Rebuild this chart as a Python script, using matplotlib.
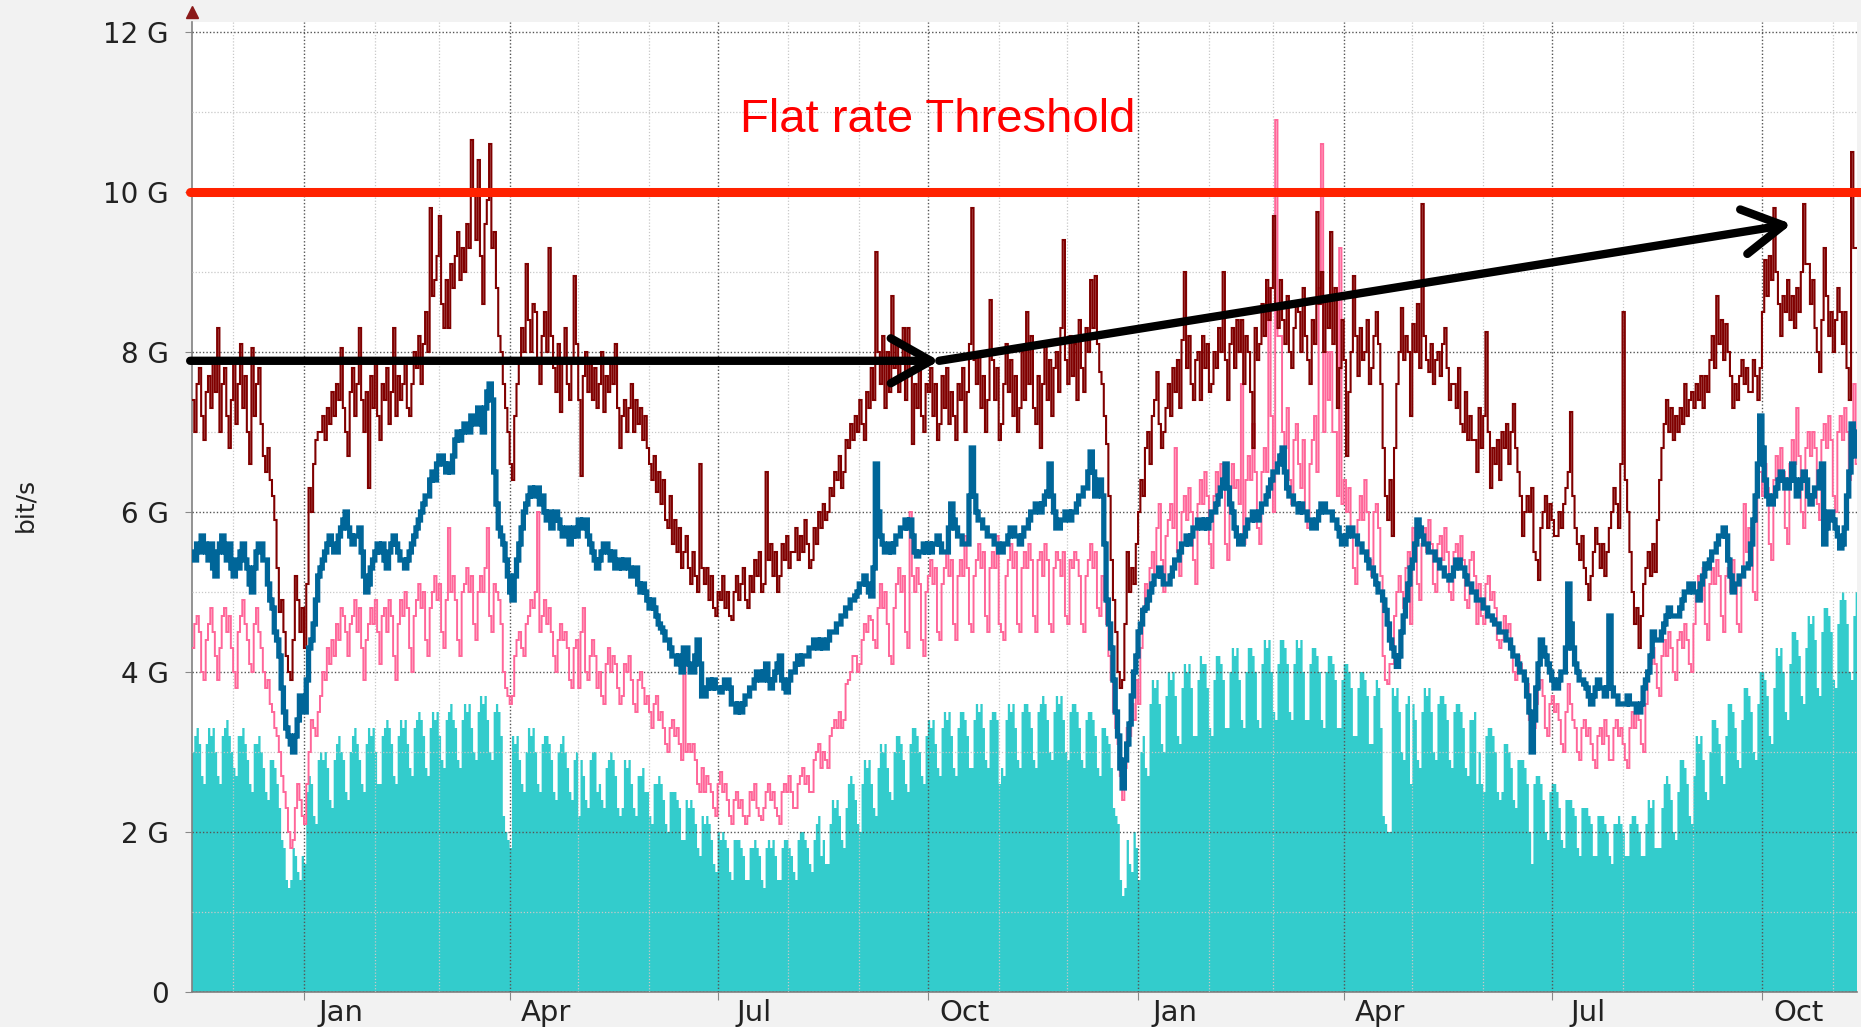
import numpy as np
import pandas as pd
import matplotlib
matplotlib.use('Agg')
import matplotlib.pyplot as plt
import matplotlib.dates as mdates
from matplotlib.ticker import MultipleLocator, NullFormatter
from matplotlib.transforms import blended_transform_factory

# daily values in Gbit/s, first day 2012-11-13, one row per week
start = '2012-11-13'

teal_area = [
    3.0, 3.2, 3.3, 3.1, 2.7, 2.6, 3.1,
    3.3, 3.2, 3.3, 3.0, 2.7, 2.6, 3.2,
    3.3, 3.4, 3.2, 3.0, 2.8, 2.7, 3.2,
    3.2, 3.3, 3.1, 2.9, 2.6, 2.5, 3.1,
    3.1, 3.2, 3.0, 2.8, 2.5, 2.4, 2.9,
    2.9, 2.8, 2.6, 2.3, 1.9, 1.8, 1.4,
    1.3, 1.4, 1.8, 1.7, 1.5, 1.4, 1.7,
    1.6, 2.5, 2.7, 2.6, 2.2, 2.1, 2.9,
    3.0, 2.9, 3.0, 2.8, 2.4, 2.3, 2.9,
    3.1, 3.2, 3.0, 2.9, 2.5, 2.4, 3.0,
    3.2, 3.3, 3.1, 2.9, 2.6, 2.5, 3.1,
    3.3, 3.2, 3.3, 3.0, 2.6, 2.6, 3.2,
    3.3, 3.4, 3.3, 3.1, 2.7, 2.6, 3.2,
    3.4, 3.3, 3.4, 3.1, 2.8, 2.7, 3.3,
    3.4, 3.5, 3.4, 3.2, 2.8, 2.7, 3.3,
    3.5, 3.4, 3.5, 3.2, 2.9, 2.8, 3.4,
    3.5, 3.6, 3.4, 3.3, 2.9, 2.8, 3.4,
    3.6, 3.5, 3.6, 3.3, 3.0, 2.9, 3.5,
    3.7, 3.6, 3.7, 3.4, 3.0, 2.9, 3.5,
    3.6, 3.5, 3.2, 2.2, 2.0, 1.9, 1.8,
    3.2, 3.1, 3.2, 2.9, 2.6, 2.5, 3.0,
    3.3, 3.2, 3.3, 3.0, 2.6, 2.5, 3.1,
    3.2, 3.2, 3.1, 2.9, 2.5, 2.4, 3.0,
    3.1, 3.2, 3.0, 2.8, 2.5, 2.4, 2.9,
    3.0, 2.2, 2.9, 2.7, 2.4, 2.3, 2.9,
    3.0, 3.0, 2.5, 2.6, 2.4, 2.3, 2.8,
    2.9, 3.0, 2.9, 2.7, 2.3, 2.2, 2.3,
    2.9, 2.8, 2.9, 2.6, 2.3, 2.2, 2.7,
    2.7, 2.8, 2.5, 2.5, 2.2, 2.1, 2.6,
    2.6, 2.7, 2.6, 2.4, 2.1, 2.0, 2.5,
    2.5, 2.5, 2.4, 2.3, 1.9, 1.9, 2.4,
    2.3, 2.4, 2.3, 2.1, 1.8, 1.7, 2.2,
    2.1, 2.2, 2.1, 1.9, 1.6, 1.5, 2.0,
    1.9, 2.0, 1.9, 1.8, 1.5, 1.4, 1.9,
    1.9, 1.9, 1.8, 1.7, 1.4, 1.4, 1.8,
    1.8, 1.9, 1.8, 1.7, 1.4, 1.3, 1.8,
    1.9, 1.8, 1.9, 1.7, 1.4, 1.4, 1.8,
    1.9, 1.9, 1.8, 1.7, 1.5, 1.4, 1.9,
    2.0, 2.0, 1.9, 1.8, 1.6, 1.5, 1.9,
    2.1, 2.2, 1.7, 1.9, 1.6, 1.6, 2.1,
    2.4, 2.3, 2.4, 2.2, 1.9, 1.8, 2.3,
    2.6, 2.7, 2.6, 2.4, 2.1, 2.0, 2.6,
    2.9, 2.8, 2.9, 2.6, 2.3, 2.2, 2.8,
    3.1, 3.0, 3.1, 2.8, 2.5, 2.4, 3.0,
    3.2, 3.2, 3.1, 2.9, 2.6, 2.5, 3.1,
    3.3, 3.3, 3.2, 3.0, 2.7, 2.6, 3.2,
    3.4, 3.3, 3.4, 3.1, 2.8, 2.7, 3.3,
    3.5, 3.4, 3.5, 3.2, 2.8, 2.7, 3.3,
    3.5, 3.5, 3.4, 3.2, 2.8, 2.8, 3.4,
    3.6, 3.5, 3.6, 3.3, 2.9, 2.8, 3.4,
    3.5, 3.5, 3.4, 2.6, 2.8, 2.7, 3.4,
    3.6, 3.5, 3.6, 3.3, 2.9, 2.8, 3.5,
    3.6, 3.6, 3.5, 3.3, 2.9, 2.8, 3.5,
    3.6, 3.7, 3.6, 3.4, 3.0, 2.9, 3.5,
    3.7, 3.6, 3.7, 3.4, 3.0, 2.9, 3.5,
    3.6, 3.6, 3.5, 3.3, 2.9, 2.8, 3.4,
    3.5, 3.5, 3.4, 3.2, 2.8, 2.7, 3.3,
    3.3, 3.2, 3.1, 2.8, 2.3, 2.2, 2.1,
    1.4, 1.2, 1.3, 1.9, 1.6, 1.5, 2.0,
    1.8, 1.4, 3.0, 3.2, 2.8, 2.7, 3.6,
    3.9, 3.8, 3.9, 3.6, 3.1, 3.0, 3.7,
    4.0, 3.9, 4.0, 3.7, 3.2, 3.1, 3.8,
    4.1, 4.0, 4.1, 3.8, 3.2, 3.2, 3.9,
    4.2, 4.1, 4.1, 3.8, 3.3, 3.2, 3.9,
    4.2, 4.2, 4.1, 3.9, 3.3, 3.3, 4.0,
    4.3, 4.2, 4.3, 3.9, 3.4, 3.3, 4.0,
    4.3, 4.3, 4.2, 4.0, 3.4, 3.3, 4.1,
    4.4, 4.3, 4.4, 4.0, 3.5, 3.4, 4.1,
    4.4, 4.4, 4.3, 4.1, 3.5, 3.4, 4.1,
    4.4, 4.3, 4.4, 4.0, 3.4, 3.4, 4.1,
    4.3, 4.3, 4.2, 4.0, 3.4, 3.3, 4.0,
    4.2, 4.2, 4.1, 3.9, 3.3, 3.3, 3.9,
    4.1, 4.1, 4.0, 3.8, 3.2, 3.2, 3.8,
    4.0, 4.0, 3.9, 3.7, 3.1, 3.1, 3.7,
    3.9, 3.8, 3.3, 2.2, 2.1, 2.0, 2.0,
    3.8, 3.7, 3.8, 3.5, 3.0, 2.9, 3.6,
    3.7, 2.6, 3.6, 3.4, 2.9, 2.8, 3.5,
    3.8, 3.7, 3.8, 3.5, 3.0, 2.9, 3.6,
    3.7, 3.7, 3.6, 3.4, 2.9, 2.8, 3.5,
    3.6, 3.6, 3.5, 3.3, 2.8, 2.7, 3.4,
    3.4, 3.5, 2.6, 3.0, 2.6, 2.5, 3.2,
    3.3, 3.3, 3.2, 3.0, 2.5, 2.4, 2.5,
    3.1, 3.1, 3.0, 2.8, 2.4, 2.3, 2.9,
    2.9, 2.9, 2.8, 2.6, 2.0, 1.6, 2.6,
    2.7, 2.7, 2.6, 2.4, 2.0, 1.9, 2.5,
    2.6, 2.6, 2.5, 2.3, 1.9, 1.8, 2.4,
    2.4, 2.4, 2.3, 2.2, 1.8, 1.7, 2.3,
    2.3, 2.3, 2.2, 2.1, 1.7, 1.7, 2.2,
    2.2, 2.2, 2.1, 2.0, 1.7, 1.6, 2.1,
    2.1, 2.2, 2.1, 2.0, 1.7, 1.7, 2.1,
    2.2, 2.2, 2.1, 2.0, 1.7, 1.7, 2.1,
    2.4, 2.3, 2.4, 1.8, 1.8, 1.8, 2.3,
    2.6, 2.7, 2.6, 2.4, 2.0, 1.9, 2.5,
    2.9, 2.9, 2.8, 2.6, 2.2, 2.1, 2.7,
    3.2, 3.1, 3.2, 2.9, 2.5, 2.4, 3.0,
    3.4, 3.4, 3.3, 3.1, 2.7, 2.6, 3.2,
    3.6, 3.6, 3.5, 3.3, 2.9, 2.8, 3.4,
    3.8, 3.8, 3.7, 3.5, 3.0, 2.9, 3.6,
    4.0, 4.0, 3.9, 3.7, 3.2, 3.1, 3.8,
    4.3, 4.2, 4.3, 4.0, 3.5, 3.4, 4.1,
    4.5, 4.5, 4.4, 4.2, 3.7, 3.6, 4.3,
    4.7, 4.6, 4.7, 4.4, 3.8, 3.7, 4.5,
    4.8, 4.8, 4.7, 4.5, 3.9, 3.8, 4.6,
    4.9, 5.0, 4.9, 4.6, 4.0, 3.9, 4.7,
    5.0,
]

blue_line = [
    5.5, 5.4, 5.6, 5.5, 5.7, 5.6, 5.5,
    5.4, 5.6, 5.3, 5.2, 5.5, 5.6, 5.7,
    5.5, 5.4, 5.6, 5.3, 5.2, 5.4, 5.3,
    5.5, 5.6, 5.4, 5.3, 5.1, 5.0, 5.3,
    5.5, 5.6, 5.6, 5.4, 5.4, 5.1, 4.9,
    4.8, 4.5, 4.4, 4.2, 3.8, 3.5, 3.3,
    3.2, 3.1, 3.0, 3.2, 3.4, 3.7, 3.6,
    3.5, 3.9, 4.3, 4.4, 4.6, 4.9, 5.2,
    5.3, 5.4, 5.5, 5.6, 5.7, 5.6, 5.5,
    5.5, 5.7, 5.8, 5.9, 6.0, 5.8, 5.7,
    5.6, 5.7, 5.7, 5.8, 5.5, 5.2, 5.0,
    5.1, 5.3, 5.4, 5.5, 5.6, 5.5, 5.6,
    5.4, 5.3, 5.5, 5.6, 5.7, 5.6, 5.5,
    5.4, 5.4, 5.3, 5.4, 5.5, 5.6, 5.7,
    5.8, 5.9, 6.0, 6.1, 6.2, 6.2, 6.4,
    6.5, 6.4, 6.6, 6.7, 6.7, 6.6, 6.5,
    6.6, 6.5, 6.7, 6.9, 7.0, 6.9, 7.0,
    7.1, 7.1, 7.0, 7.2, 7.2, 7.1, 7.3,
    7.2, 7.0, 7.3, 7.5, 7.6, 7.4, 6.5,
    6.1, 5.8, 5.7, 5.6, 5.4, 5.2, 5.0,
    4.9, 5.2, 5.4, 5.6, 5.8, 6.0, 6.1,
    6.2, 6.3, 6.2, 6.3, 6.3, 6.1, 6.2,
    6.0, 5.9, 6.0, 5.8, 5.9, 6.0, 5.9,
    5.8, 5.7, 5.7, 5.8, 5.6, 5.7, 5.8,
    5.7, 5.9, 5.8, 5.9, 5.9, 5.7, 5.6,
    5.5, 5.4, 5.3, 5.4, 5.5, 5.6, 5.6,
    5.5, 5.4, 5.5, 5.3, 5.3, 5.4, 5.3,
    5.4, 5.4, 5.3, 5.2, 5.2, 5.3, 5.1,
    5.0, 5.1, 5.0, 4.9, 4.8, 4.9, 4.8,
    4.7, 4.6, 4.55, 4.5, 4.4, 4.4, 4.3,
    4.2, 4.2, 4.1, 4.2, 4.0, 4.3, 4.3,
    4.1, 4.0, 4.0, 4.2, 4.4, 4.1, 3.7,
    3.7, 3.8, 3.9, 3.8, 3.9, 3.8, 3.8,
    3.75, 3.8, 3.9, 3.9, 3.8, 3.6, 3.6,
    3.5, 3.6, 3.5, 3.6, 3.7, 3.7, 3.8,
    3.8, 3.9, 4.0, 4.0, 3.9, 4.0, 4.1,
    3.9, 3.8, 3.9, 4.0, 4.1, 4.2, 3.9,
    3.8, 3.75, 3.9, 4.0, 4.0, 4.1, 4.2,
    4.1, 4.2, 4.2, 4.2, 4.3, 4.3, 4.4,
    4.4, 4.3, 4.4, 4.3, 4.3, 4.4, 4.5,
    4.5, 4.5, 4.6, 4.6, 4.7, 4.7, 4.8,
    4.8, 4.9, 4.9, 4.95, 5.0, 5.1, 5.1,
    5.2, 5.1, 5.0, 4.95, 5.3, 6.6, 6.0,
    5.7, 5.6, 5.5, 5.5, 5.6, 5.5, 5.6,
    5.7, 5.7, 5.8, 5.8, 5.9, 5.8, 5.9,
    5.7, 5.5, 5.45, 5.5, 5.5, 5.6, 5.5,
    5.6, 5.5, 5.6, 5.6, 5.7, 5.6, 5.5,
    5.5, 5.5, 5.8, 6.1, 5.9, 5.8, 5.7,
    5.7, 5.6, 5.6, 5.6, 6.2, 6.8, 6.2,
    6.0, 5.9, 5.9, 5.8, 5.8, 5.7, 5.7,
    5.7, 5.6, 5.6, 5.5, 5.5, 5.6, 5.6,
    5.7, 5.8, 5.8, 5.7, 5.7, 5.6, 5.7,
    5.8, 5.8, 5.9, 6.0, 6.0, 6.1, 6.1,
    6.0, 6.1, 6.2, 6.25, 6.6, 6.2, 6.0,
    5.8, 5.8, 5.9, 5.9, 6.0, 6.0, 5.9,
    6.0, 6.0, 6.1, 6.2, 6.2, 6.3, 6.3,
    6.5, 6.75, 6.5, 6.2, 6.3, 6.4, 6.2,
    5.6, 4.9, 4.6, 4.3, 3.9, 3.5, 3.2,
    2.8, 2.55, 2.9, 3.1, 3.35, 3.7, 4.0,
    4.2, 4.5, 4.6, 4.77, 4.8, 4.9, 5.0,
    5.1, 5.2, 5.2, 5.3, 5.2, 5.1, 5.1,
    5.1, 5.2, 5.3, 5.4, 5.4, 5.5, 5.6,
    5.6, 5.7, 5.6, 5.7, 5.8, 5.8, 5.9,
    5.9, 5.8, 5.9, 5.8, 5.9, 6.0, 6.0,
    6.1, 6.2, 6.3, 6.4, 6.6, 6.3, 6.1,
    6.0, 5.8, 5.7, 5.6, 5.6, 5.7, 5.8,
    5.9, 5.9, 6.0, 5.9, 5.9, 6.0, 6.1,
    6.1, 6.2, 6.3, 6.4, 6.5, 6.5, 6.6,
    6.7, 6.8, 6.5, 6.3, 6.2, 6.2, 6.1,
    6.1, 6.0, 6.1, 6.0, 6.0, 5.9, 5.9,
    5.8, 5.8, 5.9, 6.0, 6.1, 6.1, 6.0,
    6.0, 6.0, 5.9, 5.9, 5.8, 5.7, 5.6,
    5.6, 5.7, 5.8, 5.8, 5.7, 5.7, 5.6,
    5.6, 5.5, 5.5, 5.4, 5.3, 5.3, 5.2,
    5.1, 5.0, 5.0, 4.9, 4.77, 4.6, 4.4,
    4.3, 4.2, 4.07, 4.2, 4.5, 4.7, 4.9,
    5.1, 5.3, 5.4, 5.6, 5.9, 5.8, 5.7,
    5.6, 5.6, 5.5, 5.5, 5.5, 5.4, 5.4,
    5.3, 5.3, 5.2, 5.2, 5.15, 5.2, 5.3,
    5.4, 5.4, 5.3, 5.3, 5.2, 5.1, 5.1,
    5.0, 5.0, 4.9, 4.9, 4.9, 4.8, 4.8,
    4.7, 4.7, 4.65, 4.6, 4.6, 4.5, 4.5,
    4.5, 4.4, 4.4, 4.3, 4.2, 4.2, 4.1,
    4.0, 4.0, 3.9, 3.7, 3.5, 3.0, 3.4,
    3.8, 4.1, 4.4, 4.3, 4.2, 4.1, 4.0,
    3.9, 3.8, 3.8, 3.9, 4.0, 4.0, 4.3,
    5.1, 4.6, 4.3, 4.1, 4.0, 3.9, 3.9,
    3.85, 3.8, 3.7, 3.6, 3.7, 3.8, 3.9,
    3.8, 3.8, 3.7, 3.8, 4.7, 3.8, 3.7,
    3.7, 3.6, 3.6, 3.6, 3.6, 3.7, 3.6,
    3.6, 3.6, 3.5, 3.5, 3.6, 3.8, 3.9,
    4.0, 4.2, 4.5, 4.4, 4.4, 4.4, 4.5,
    4.6, 4.7, 4.8, 4.7, 4.7, 4.7, 4.7,
    4.8, 4.9, 5.0, 5.0, 5.1, 5.1, 5.0,
    5.0, 4.9, 5.1, 5.2, 5.35, 5.3, 5.4,
    5.5, 5.5, 5.6, 5.7, 5.7, 5.8, 5.7,
    5.4, 5.2, 5.0, 5.1, 5.1, 5.2, 5.2,
    5.3, 5.3, 5.35, 5.6, 5.9, 6.2, 6.6,
    7.2, 6.8, 6.4, 6.2, 6.1, 6.1, 6.2,
    6.3, 6.4, 6.5, 6.4, 6.3, 6.3, 6.4,
    6.6, 6.4, 6.2, 6.3, 6.4, 6.5, 6.4,
    6.2, 6.1, 6.2, 6.3, 6.3, 6.5, 6.6,
    5.6, 5.8, 6.0, 6.0, 5.9, 5.8, 5.7,
    5.55, 5.6, 5.8, 6.2, 6.5, 7.1, 7.0,
    6.7,
]

pink_line = [
    4.3, 4.6, 4.7, 4.5, 4.0, 3.9, 4.4,
    4.6, 4.8, 4.5, 4.2, 3.9, 4.3, 4.7,
    4.8, 4.5, 4.7, 4.3, 4.0, 3.8, 4.5,
    4.7, 4.9, 4.6, 4.4, 4.1, 4.0, 4.6,
    4.8, 4.5, 4.3, 4.0, 3.8, 3.9, 3.6,
    3.5, 3.3, 3.2, 3.0, 2.7, 2.5, 2.3,
    2.0, 1.8, 1.9, 2.3, 2.6, 2.4, 2.2,
    2.1, 2.6, 3.0, 3.4, 3.3, 3.2, 3.5,
    3.7, 4.0, 3.9, 4.3, 4.1, 4.4, 4.2,
    4.6, 4.4, 4.8, 4.7, 4.5, 4.2, 4.6,
    4.7, 4.9, 4.5, 4.8, 4.3, 3.9, 4.4,
    4.6, 4.8, 4.6, 4.9, 4.5, 4.1, 4.7,
    4.8, 4.5, 4.9, 4.7, 4.2, 3.9, 4.6,
    4.9, 4.7, 5.0, 4.8, 4.3, 4.0, 4.7,
    4.9, 5.1, 4.8, 5.0, 4.4, 4.2, 4.8,
    5.0, 5.2, 4.9, 5.1, 4.5, 4.3, 4.9,
    5.8, 5.0, 5.2, 4.9, 4.4, 4.2, 5.0,
    5.1, 5.3, 5.0, 5.2, 4.6, 4.4, 5.0,
    5.2, 5.0, 5.3, 5.8, 4.7, 4.5, 5.1,
    5.0, 4.9, 4.6, 4.0, 3.8, 3.7, 3.6,
    3.7, 4.2, 4.4, 4.5, 4.3, 4.2, 4.6,
    4.7, 4.9, 4.8, 5.0, 6.0, 4.5, 4.7,
    4.9, 4.6, 4.8, 4.5, 4.2, 4.0, 4.4,
    4.6, 4.4, 4.5, 4.3, 3.9, 3.8, 4.3,
    4.4, 3.8, 4.5, 4.8, 4.0, 3.9, 4.2,
    4.4, 4.2, 3.8, 4.0, 3.7, 3.6, 4.1,
    4.3, 4.0, 4.2, 4.1, 3.8, 3.6, 3.7,
    4.1, 4.0, 4.2, 3.9, 3.6, 3.5, 3.9,
    4.0, 3.8, 3.6, 3.7, 3.5, 3.3, 3.6,
    3.7, 3.4, 3.5, 3.3, 3.1, 3.0, 3.3,
    3.4, 3.2, 3.3, 3.1, 2.9, 4.1, 3.0,
    3.1, 3.0, 3.1, 2.9, 2.6, 2.5, 2.8,
    2.5, 2.7, 2.6, 2.5, 2.3, 2.2, 2.6,
    2.75, 2.5, 2.6, 2.4, 2.2, 2.1, 2.4,
    2.5, 2.3, 2.4, 2.2, 2.1, 2.2, 2.5,
    2.4, 2.6, 2.3, 2.2, 2.15, 2.3, 2.5,
    2.6, 2.4, 2.5, 2.3, 2.2, 2.1, 2.5,
    2.6, 2.5, 2.7, 2.5, 2.3, 2.3, 2.6,
    2.7, 2.8, 2.6, 2.7, 2.5, 2.5, 2.9,
    3.0, 3.1, 2.8, 3.0, 2.9, 2.8, 3.2,
    3.3, 3.4, 3.3, 3.5, 3.3, 3.4, 3.85,
    3.9, 4.0, 4.2, 4.2, 4.0, 4.1, 4.4,
    4.6, 4.5, 4.7, 4.65, 4.4, 4.3, 4.8,
    5.1, 4.8, 5.0, 4.6, 4.2, 4.1, 4.8,
    5.1, 5.3, 5.0, 5.2, 4.5, 4.3, 6.0,
    5.2, 5.0, 5.3, 5.1, 4.4, 4.2, 5.0,
    5.2, 5.4, 5.1, 5.3, 4.5, 4.4, 5.1,
    5.3, 5.5, 5.2, 5.4, 4.6, 4.4, 5.2,
    5.4, 5.2, 5.7, 5.3, 4.6, 4.5, 5.2,
    5.4, 5.6, 5.3, 5.5, 4.7, 4.5, 5.3,
    5.5, 5.3, 5.7, 4.6, 4.5, 4.4, 5.2,
    5.4, 5.6, 5.3, 5.5, 4.6, 4.5, 5.3,
    5.5, 5.3, 5.6, 5.4, 4.7, 4.5, 5.4,
    5.5, 5.2, 5.6, 5.4, 4.6, 4.5, 5.3,
    5.5, 5.4, 5.2, 5.5, 4.7, 4.6, 5.4,
    5.3, 5.5, 5.4, 5.2, 4.6, 4.5, 5.2,
    5.4, 5.6, 5.3, 5.5, 4.8, 4.7, 5.2,
    4.9, 4.6, 4.2, 3.9, 3.5, 3.3, 3.1,
    2.7, 2.4, 2.8, 3.3, 3.2, 3.6, 3.4,
    3.9, 3.6, 4.3, 4.8, 5.1, 4.9, 5.3,
    5.5, 5.2, 5.8, 6.1, 5.4, 5.0, 5.7,
    5.9, 6.1, 5.8, 6.8, 5.5, 5.2, 6.0,
    6.2, 5.9, 6.3, 6.0, 5.4, 5.1, 6.1,
    6.4, 6.1, 6.5, 6.2, 5.6, 5.3, 6.2,
    6.5, 6.2, 6.6, 6.3, 5.6, 5.4, 6.3,
    6.6, 6.3, 6.4, 6.1, 7.6, 5.6, 6.4,
    6.7, 6.4, 7.1, 6.5, 5.8, 5.6, 6.5,
    6.8, 6.5, 8.8, 7.2, 6.0, 10.9, 8.2,
    8.2, 7.0, 6.8, 7.3, 6.4, 6.1, 6.9,
    7.1, 6.6, 6.3, 6.9, 6.0, 5.8, 6.6,
    6.9, 7.2, 6.5, 8.8, 10.6, 7.0, 8.0,
    7.4, 8.0, 7.0, 7.0, 6.2, 9.3, 6.1,
    6.4, 6.0, 6.3, 5.8, 5.3, 5.1, 5.9,
    6.2, 5.9, 6.4, 6.0, 5.4, 5.2, 6.0,
    6.1, 5.8, 5.2, 4.2, 3.9, 3.85, 4.1,
    4.1, 4.7, 5.0, 5.2, 5.0, 4.8, 5.3,
    5.5, 4.6, 5.8, 5.6, 5.1, 4.9, 5.6,
    5.8, 5.5, 5.9, 5.6, 5.1, 5.0, 5.6,
    5.7, 5.4, 5.8, 5.5, 5.0, 4.9, 5.5,
    5.6, 5.3, 5.7, 5.4, 4.9, 4.8, 5.4,
    5.5, 5.2, 4.6, 5.1, 4.7, 4.6, 5.1,
    5.2, 4.9, 5.0, 4.8, 4.4, 4.3, 4.4,
    4.7, 4.5, 4.6, 4.3, 4.0, 3.9, 4.2,
    4.1, 4.0, 3.9, 3.85, 3.4, 3.0, 3.3,
    3.6, 3.8, 3.9, 3.7, 3.3, 3.2, 3.6,
    3.7, 3.5, 3.6, 3.4, 3.1, 3.0, 3.5,
    3.85, 3.6, 3.4, 3.3, 3.0, 2.9, 3.3,
    3.4, 3.2, 3.3, 3.1, 2.9, 2.8, 3.2,
    3.3, 3.1, 3.4, 3.2, 2.9, 2.9, 3.3,
    3.4, 3.2, 3.3, 3.1, 2.9, 2.8, 3.3,
    3.5, 3.3, 3.6, 3.4, 3.1, 3.0, 3.6,
    4.0, 4.1, 4.3, 4.1, 3.8, 3.7, 4.2,
    4.4, 4.2, 4.5, 4.3, 4.0, 3.9, 4.4,
    4.5, 4.3, 4.6, 4.4, 4.1, 4.0, 4.6,
    5.0, 5.2, 4.9, 5.3, 4.6, 4.4, 5.1,
    5.3, 5.1, 5.4, 5.2, 4.7, 4.5, 5.2,
    5.3, 5.0, 5.4, 5.1, 4.6, 4.5, 5.2,
    6.1, 5.5, 5.8, 5.6, 5.0, 4.9, 6.5,
    6.5, 6.2, 6.6, 6.3, 5.6, 5.4, 6.4,
    6.7, 6.4, 6.8, 6.5, 5.8, 5.6, 6.6,
    6.9, 6.6, 7.3, 6.7, 6.0, 5.8, 6.8,
    7.0, 6.7, 7.0, 6.8, 6.1, 5.9, 6.9,
    7.1, 6.8, 7.2, 6.9, 6.2, 6.0, 7.0,
    7.2, 6.9, 7.3, 7.0, 6.4, 7.1, 7.6,
    6.6,
]

max_line = [
    7.4, 7.0, 7.6, 7.8, 7.2, 6.9, 7.5,
    7.7, 7.3, 7.9, 7.5, 8.3, 7.0, 7.6,
    7.8, 7.2, 6.8, 7.4, 7.9, 7.1, 7.6,
    8.1, 7.3, 7.7, 7.0, 6.6, 8.05, 7.2,
    7.6, 7.8, 7.1, 6.7, 6.5, 6.8, 6.4,
    6.2, 5.9, 5.3, 4.75, 4.9, 4.5, 4.2,
    4.0, 3.9, 4.4, 5.2, 4.9, 4.5, 4.8,
    4.3, 5.1, 6.3, 6.0, 6.6, 6.9, 7.0,
    7.0, 7.2, 6.9, 7.3, 7.1, 7.5, 7.2,
    7.6, 7.4, 8.05, 7.3, 7.0, 6.7, 7.5,
    7.8, 7.2, 7.6, 8.3, 7.4, 7.0, 7.5,
    6.3, 7.7, 7.3, 7.9, 7.2, 6.9, 7.6,
    7.4, 7.8, 7.1, 7.5, 8.3, 7.2, 7.7,
    7.4, 7.6, 7.9, 7.3, 7.2, 7.6, 8.0,
    7.8, 8.2, 7.6, 8.1, 8.5, 8.0, 9.8,
    8.7, 8.9, 9.2, 9.7, 8.6, 8.3, 8.9,
    8.3, 9.1, 8.8, 9.2, 9.5, 8.9, 9.3,
    9.0, 9.6, 9.3, 10.65, 10.0, 9.4, 10.4,
    9.2, 8.6, 9.6, 9.9, 10.6, 9.3, 9.5,
    8.8, 8.2, 8.0, 7.6, 7.3, 7.0, 6.6,
    6.4, 7.2, 7.6, 7.9, 8.3, 8.0, 9.1,
    8.4, 8.0, 8.6, 8.5, 7.9, 7.6, 8.2,
    8.5, 8.0, 9.3, 8.2, 7.8, 7.5, 8.1,
    7.25, 7.9, 8.3, 7.6, 7.4, 7.9, 8.95,
    8.1, 7.4, 6.45, 7.7, 8.0, 7.5, 7.9,
    7.4, 7.8, 7.3, 7.6, 8.0, 7.25, 7.7,
    7.5, 7.9, 7.6, 8.1, 7.3, 6.8, 7.2,
    7.4, 7.0, 7.3, 7.6, 7.0, 7.4, 7.1,
    7.3, 6.9, 7.2, 6.8, 6.6, 6.4, 6.7,
    6.25, 6.5, 6.1, 6.4, 5.9, 5.8, 6.2,
    5.6, 5.9, 5.5, 5.8, 5.3, 5.5, 5.7,
    5.3, 5.1, 5.5, 5.2, 5.0, 6.6, 5.3,
    5.1, 5.3, 4.9, 5.2, 4.8, 4.7, 5.0,
    4.9, 5.2, 4.8, 5.0, 4.7, 4.65, 5.0,
    5.2, 4.9, 5.1, 5.3, 4.9, 4.8, 5.2,
    5.0, 5.4, 5.2, 5.5, 5.0, 5.1, 6.5,
    5.4, 5.6, 5.2, 5.5, 5.0, 5.2, 5.6,
    5.4, 5.7, 5.3, 5.5, 5.5, 5.8, 5.4,
    5.7, 5.5, 5.9, 5.6, 5.3, 5.4, 5.8,
    5.6, 6.0, 5.8, 6.1, 5.9, 6.0, 6.3,
    6.2, 6.5, 6.4, 6.7, 6.3, 6.5, 6.9,
    6.8, 7.1, 6.9, 7.2, 7.0, 7.4, 7.1,
    6.9, 7.5, 7.3, 7.8, 7.4, 9.25, 8.0,
    7.6, 8.2, 7.3, 8.0, 7.5, 8.7, 7.8,
    8.1, 7.5, 7.9, 8.3, 7.4, 8.3, 7.7,
    6.85, 7.6, 7.3, 7.8, 7.2, 7.0, 7.6,
    7.5, 7.8, 7.2, 7.6, 6.9, 7.1, 7.7,
    7.3, 7.8, 7.1, 7.5, 7.2, 6.9, 7.6,
    7.4, 7.8, 7.0, 7.5, 8.1, 9.8, 7.9,
    7.6, 8.0, 7.3, 7.7, 7.0, 7.4, 8.65,
    7.9, 7.4, 7.8, 6.9, 7.1, 7.6, 8.1,
    7.5, 7.9, 7.2, 7.7, 7.0, 7.3, 8.0,
    7.4, 8.5, 7.6, 8.2, 7.3, 7.1, 7.7,
    6.8, 7.6, 8.1, 7.4, 7.9, 7.2, 7.8,
    8.0, 7.5, 8.3, 9.4, 7.9, 7.6, 8.2,
    7.7, 8.1, 7.4, 8.4, 7.8, 7.5, 8.3,
    8.0, 8.9, 8.3, 8.95, 8.1, 7.75, 7.6,
    7.2, 6.85, 6.2, 5.4, 4.9, 4.5, 4.0,
    3.8, 3.9, 4.6, 5.5, 5.0, 5.3, 5.1,
    5.6, 6.0, 6.4, 6.2, 6.8, 7.0, 6.6,
    7.2, 7.4, 7.75, 7.1, 6.8, 7.0, 7.3,
    7.6, 7.2, 7.8, 7.5, 7.9, 7.3, 8.15,
    9.0, 7.8, 8.2, 7.6, 7.4, 7.9, 8.0,
    7.4, 8.2, 7.8, 8.1, 7.5, 7.6, 8.0,
    7.8, 8.3, 8.0, 9.0, 7.9, 7.4, 8.1,
    8.3, 7.8, 8.4, 8.0, 8.4, 7.6, 8.2,
    8.0, 7.5, 6.8, 8.3, 7.9, 8.1, 8.6,
    8.2, 8.9, 8.4, 8.8, 9.7, 8.55, 8.3,
    8.9, 8.4, 8.1, 8.7, 8.0, 7.8, 8.3,
    8.6, 8.5, 8.0, 8.8, 8.2, 7.9, 7.6,
    8.4, 8.1, 9.75, 8.6, 9.0, 8.0, 8.7,
    8.3, 9.5, 8.1, 8.8, 7.3, 7.8, 8.4,
    7.9, 6.7, 7.5, 8.0, 8.95, 8.2, 7.7,
    8.3, 7.9, 8.0, 8.4, 7.6, 7.8, 8.2,
    8.5, 8.1, 7.6, 6.8, 6.2, 5.9, 6.4,
    5.7, 6.8, 7.6, 8.0, 8.55, 7.9, 8.2,
    8.0, 7.2, 8.35, 8.0, 8.6, 7.8, 9.85,
    8.2, 7.9, 7.75, 8.1, 7.6, 7.9, 8.0,
    7.7, 8.1, 8.3, 7.8, 7.4, 7.6, 7.6,
    7.3, 7.8, 7.1, 7.0, 7.5, 6.9, 7.2,
    6.9, 6.9, 6.5, 7.3, 6.8, 7.2, 8.25,
    7.0, 6.3, 6.8, 6.6, 6.9, 6.4, 7.0,
    6.8, 7.1, 6.6, 7.0, 7.35, 6.8, 6.5,
    6.2, 5.7, 6.0, 6.2, 6.0, 6.3, 5.5,
    5.4, 5.15, 5.8, 6.0, 6.2, 5.8, 6.1,
    5.9, 5.7, 5.7, 6.0, 5.8, 6.1, 6.3,
    6.5, 7.25, 6.2, 5.8, 5.6, 5.4, 5.7,
    5.3, 5.1, 4.9, 5.2, 5.5, 5.8, 5.6,
    5.3, 5.6, 5.2, 5.5, 5.8, 6.0, 6.3,
    6.1, 5.8, 6.6, 8.5, 6.4, 6.0, 5.5,
    5.0, 4.6, 4.8, 4.3, 4.7, 5.1, 5.3,
    5.5, 5.2, 5.6, 5.25, 5.9, 6.4, 6.8,
    7.1, 7.4, 7.0, 7.3, 6.9, 7.2, 7.0,
    7.3, 7.1, 7.6, 7.2, 7.4, 7.5, 7.3,
    7.6, 7.4, 7.7, 7.3, 7.7, 7.5, 7.9,
    8.2, 7.8, 8.7, 8.1, 8.4, 7.9, 8.35,
    8.0, 7.7, 7.3, 7.6, 7.4, 7.7, 7.9,
    7.6, 7.8, 7.5, 7.5, 7.9, 7.7, 7.4,
    7.8, 8.5, 9.15, 8.7, 9.2, 8.9, 9.8,
    9.0, 8.6, 8.2, 8.7, 8.5, 8.9, 8.4,
    8.7, 8.3, 8.8, 8.5, 9.0, 9.85, 9.1,
    9.1, 8.6, 8.9, 8.3, 8.0, 7.75, 8.4,
    9.3, 8.7, 8.2, 8.5, 8.0, 8.4, 8.8,
    8.5, 8.1, 8.5, 7.8, 7.4, 10.5, 9.3,
    9.3,
]

threshold = 10
y_ticks = [0, 2, 4, 6, 8, 10, 12]
y_labels = ['0', '2 G', '4 G', '6 G', '8 G', '10 G', '12 G']
quarter_starts = ['2013-01-01', '2013-04-01', '2013-07-01', '2013-10-01',
                  '2014-01-01', '2014-04-01', '2014-07-01', '2014-10-01']
quarter_labels = ['Jan', 'Apr', 'Jul', 'Oct', 'Jan', 'Apr', 'Jul', 'Oct']


def edges_for(values):
    d = pd.date_range(start, periods=len(values) + 1, freq='D')
    return mdates.date2num(d.to_pydatetime())


def dnum(s):
    return mdates.date2num(pd.Timestamp(s).to_pydatetime())


x0 = dnum(start)
x1 = x0 + 728.6

fig = plt.figure(figsize=(18.61, 10.27), dpi=100, facecolor='#f2f2f2')
ax = fig.add_axes([192 / 1861, 35 / 1027, 1665 / 1861, 970 / 1027])
ax.set_facecolor('white')

ax.stairs(teal_area, edges_for(teal_area), fill=True, color='#33cccc',
          baseline=0, zorder=1, lw=0)
ax.stairs(pink_line, edges_for(pink_line), baseline=None, color='#ff6699',
          lw=1.4, zorder=3)
ax.stairs(max_line, edges_for(max_line), baseline=None, color='#800000',
          lw=1.5, zorder=4)
ax.stairs(blue_line, edges_for(blue_line), baseline=None, color='#006699',
          lw=3.8, zorder=5)

ax.set_xlim(x0, x1)
ax.set_ylim(0, 12.125)

# grid
ax.set_axisbelow(False)
ax.yaxis.set_major_locator(MultipleLocator(2))
ax.yaxis.set_minor_locator(MultipleLocator(1))
ax.xaxis.set_major_locator(mdates.MonthLocator(bymonth=[1, 4, 7, 10]))
ax.xaxis.set_minor_locator(mdates.MonthLocator())
ax.xaxis.set_major_formatter(NullFormatter())
ax.grid(which='major', color='#555555', linestyle=(0, (1, 1.5)), lw=1.0, zorder=2)
ax.grid(which='minor', color='#c8c8c8', linestyle=(0, (1, 1.5)), lw=0.9, zorder=2)

ax.set_yticks(y_ticks)
ax.set_yticklabels(y_labels)
ax.tick_params(axis='y', which='major', length=5, pad=12, labelsize=20,
               color='#888888', labelcolor='#222222')
ax.tick_params(axis='x', which='major', length=6, color='#888888')
ax.tick_params(which='minor', length=0)

for s in ['top', 'right']:
    ax.spines[s].set_visible(False)
for s in ['left', 'bottom']:
    ax.spines[s].set_color('#808080')
    ax.spines[s].set_linewidth(1.2)

trans = blended_transform_factory(ax.transData, ax.transAxes)
for q, lab in zip(quarter_starts, quarter_labels):
    ax.text(dnum(q) + 16, -0.007, lab, transform=trans, ha='center', va='top',
            fontsize=21, color='#222222')

fig.text(25 / 1861, 1 - 505 / 1027, 'bit/s', rotation=90, ha='center',
         va='center', fontsize=18, color='#222222')

# small arrow on top of the y axis
ax.plot([0], [1.010], marker='^', ms=8, color='#8b1a1a', transform=ax.transAxes,
        clip_on=False, zorder=8)

# threshold line and annotations
ax.plot([x0 - 1.0, x1 + 2], [threshold, threshold], color='#ff2200', lw=6.5,
        solid_capstyle='round', clip_on=False, zorder=6)
ax.text(dnum('2013-07-11'), 10.75, 'Flat rate Threshold', color='#ff0000',
        fontsize=34, family=['Liberation Sans', 'DejaVu Sans'], ha='left',
        va='baseline', zorder=7)

arrow_style = dict(arrowstyle='->,head_length=0.8,head_width=0.45', lw=6,
                   color='black', mutation_scale=36, shrinkA=0, shrinkB=0,
                   capstyle='round', joinstyle='round')
ax.annotate('', xy=(dnum('2013-10-06'), 7.89), xytext=(x0 - 0.8, 7.89),
            arrowprops=arrow_style, annotation_clip=False, zorder=7)
ax.annotate('', xy=(dnum('2014-10-14'), 9.6), xytext=(dnum('2013-10-06'), 7.89),
            arrowprops=arrow_style, annotation_clip=False, zorder=7)

fig.savefig('out.png', dpi=100, facecolor=fig.get_facecolor())
